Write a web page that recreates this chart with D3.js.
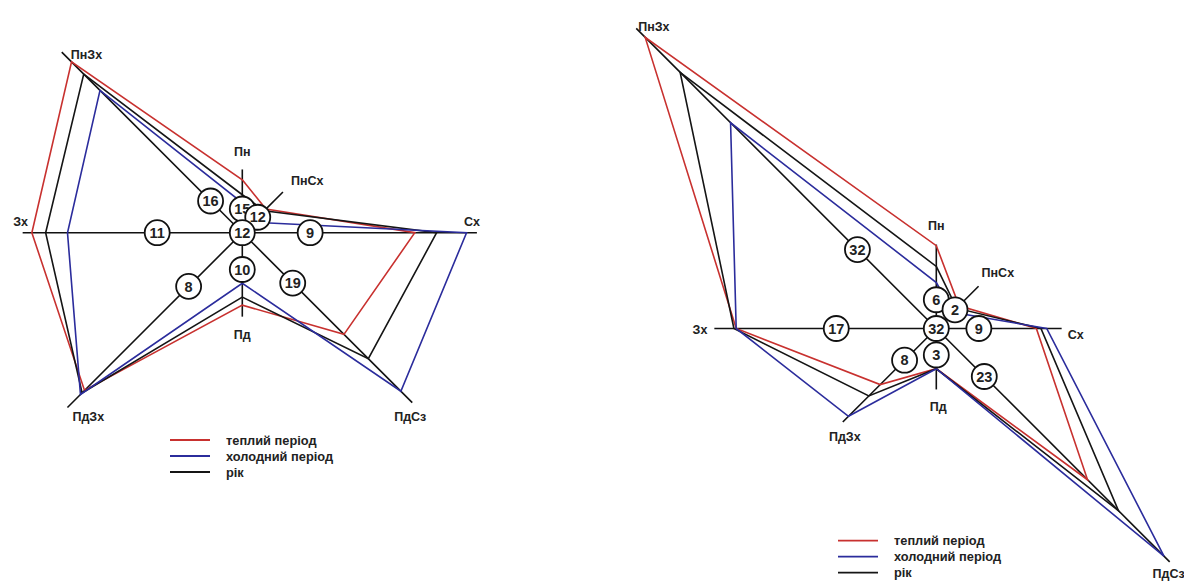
<!DOCTYPE html>
<html>
<head>
<meta charset="utf-8">
<script src="https://cdn.jsdelivr.net/npm/d3@7"></script>
<style>
  html, body { margin: 0; padding: 0; background: #ffffff; }
  svg { display: block; }
  text { font-family: "Liberation Sans", Arial, sans-serif; font-weight: bold; fill: #222; }
</style>
</head>
<body>
<svg id="chart" width="1184" height="583"></svg>
<script>
// ---------------- DATA ----------------
// Directions (clockwise from north)
const directions = ["Пн", "ПнСх", "Сх", "ПдСз", "Пд", "ПдЗх", "Зх", "ПнЗх"];
const seriesNames = ["теплий період", "холодний період", "рік"];

// Left wind rose: frequency of wind directions, %
const leftWarm = [4.6, 2.9, 15.0, 12.5, 6.3, 19.4, 18.3, 21.0];
const leftCold = [2.6, 1.3, 19.5, 19.5, 4.4, 19.9, 15.2, 17.5];
const leftYear = [3.3, 2.7, 16.9, 15.5, 5.6, 19.7, 17.1, 19.5];
const leftCircled = [15, 12, 9, 19, 10, 8, 11, 16];
const leftCalm = 12;
const leftAxisMax = [5.5, 5.0, 20.4, 20.9, 7.3, 21.5, 19.1, 22.2];

// Right wind rose: frequency of wind directions, %
const rightWarm = [7.2, 2.8, 8.7, 18.6, 3.5, 6.9, 17.4, 35.8];
const rightCold = [4.0, 2.0, 9.6, 28.0, 3.5, 10.8, 17.4, 25.3];
const rightYear = [5.4, 2.5, 9.1, 22.4, 3.5, 8.3, 17.6, 31.5];
const rightCircled = [6, 2, 9, 23, 3, 8, 17, 32];
const rightCalm = 32;
const rightAxisMax = [7.3, 5.2, 10.9, 28.7, 5.3, 11.5, 19.3, 36.9];

// ---------------- LAYOUT / STYLE ----------------
const colors = { warm: "#c8312f", cold: "#2b2c9c", year: "#151515" };
const r = d3.scaleLinear().domain([0, 40]).range([0, 460]); // 11.5 px per %
const angle = d3.scalePoint().domain(directions).range([0, 315]); // degrees

const svg = d3.select("#chart");
svg.append("rect").attr("width", 1184).attr("height", 583).attr("fill", "#fff");

function pt(cx, cy, dir, v) {
  const a = angle(dir) * Math.PI / 180;
  return [cx + r(v) * Math.sin(a), cy - r(v) * Math.cos(a)];
}

function drawRose(cfg) {
  const g = svg.append("g");
  const { cx, cy } = cfg;
  // axes
  directions.forEach((d, i) => {
    const p = pt(cx, cy, d, cfg.axisMax[i]);
    g.append("line").attr("x1", cx).attr("y1", cy).attr("x2", p[0]).attr("y2", p[1])
      .attr("stroke", "#111").attr("stroke-width", 1.6);
  });
  // polygons
  const line = d3.lineRadial().angle((d, i) => angle(directions[i]) * Math.PI / 180)
    .radius(d => r(d)).curve(d3.curveLinearClosed);
  [["warm", cfg.warm], ["year", cfg.year], ["cold", cfg.cold]].forEach(([k, vals]) => {
    g.append("path").attr("transform", `translate(${cx},${cy})`)
      .attr("d", line(vals)).attr("fill", "none")
      .attr("stroke", colors[k]).attr("stroke-width", 1.6).attr("stroke-linejoin", "miter");
  });
  // axis labels
  directions.forEach((d, i) => {
    const p = pt(cx, cy, d, cfg.axisMax[i]);
    const o = cfg.labelOff[i];
    g.append("text").attr("x", p[0] + o[0]).attr("y", p[1] + o[1])
      .attr("text-anchor", o[2]).attr("font-size", 12.5).text(d);
  });
  // circled numbers
  const circ = directions.map((d, i) => ({ p: pt(cx, cy, d, cfg.circlePos[i]), v: cfg.circled[i] }));
  circ.push({ p: [cx, cy], v: cfg.calm });
  circ.forEach(c => {
    g.append("circle").attr("cx", c.p[0]).attr("cy", c.p[1]).attr("r", 12.5)
      .attr("fill", "#fff").attr("stroke", "#111").attr("stroke-width", 1.8);
    g.append("text").attr("x", c.p[0]).attr("y", c.p[1] + 5.2).attr("text-anchor", "middle")
      .attr("font-size", 14.5).text(c.v);
  });
  // legend
  const lg = g.append("g").attr("transform", `translate(${cfg.legend[0]},${cfg.legend[1]})`);
  ["warm", "cold", "year"].forEach((k, i) => {
    lg.append("line").attr("x1", 0).attr("x2", 40).attr("y1", i * 16).attr("y2", i * 16)
      .attr("stroke", colors[k]).attr("stroke-width", 1.8);
    lg.append("text").attr("x", 56).attr("y", i * 16 + 4.5).attr("font-size", 12.8).text(seriesNames[i]);
  });
}

drawRose({
  cx: 242.3, cy: 232.7,
  warm: leftWarm, cold: leftCold, year: leftYear,
  circled: leftCircled, calm: leftCalm, axisMax: leftAxisMax,
  circlePos: [2.06, 1.9, 5.9, 6.2, 3.2, 6.6, 7.4, 3.9],
  labelOff: [[0, -13, "middle"], [8, -7, "start"], [-5, -7, "middle"], [-2, 18, "middle"],
             [0, 22, "middle"], [5, 13, "start"], [-2, -7, "middle"], [9, 7, "start"]],
  legend: [170, 440]
});

drawRose({
  cx: 936.3, cy: 328.5,
  warm: rightWarm, cold: rightCold, year: rightYear,
  circled: rightCircled, calm: rightCalm, axisMax: rightAxisMax,
  circlePos: [2.5, 2.3, 3.7, 5.9, 2.3, 3.9, 8.7, 9.7],
  labelOff: [[0, -15, "middle"], [3, -9, "start"], [6, 10, "start"], [15, 16, "end"],
             [2, 22, "middle"], [2, 19, "middle"], [-7, 5, "end"], [2, 3, "start"]],
  legend: [838, 540.7]
});
</script>
</body>
</html>
